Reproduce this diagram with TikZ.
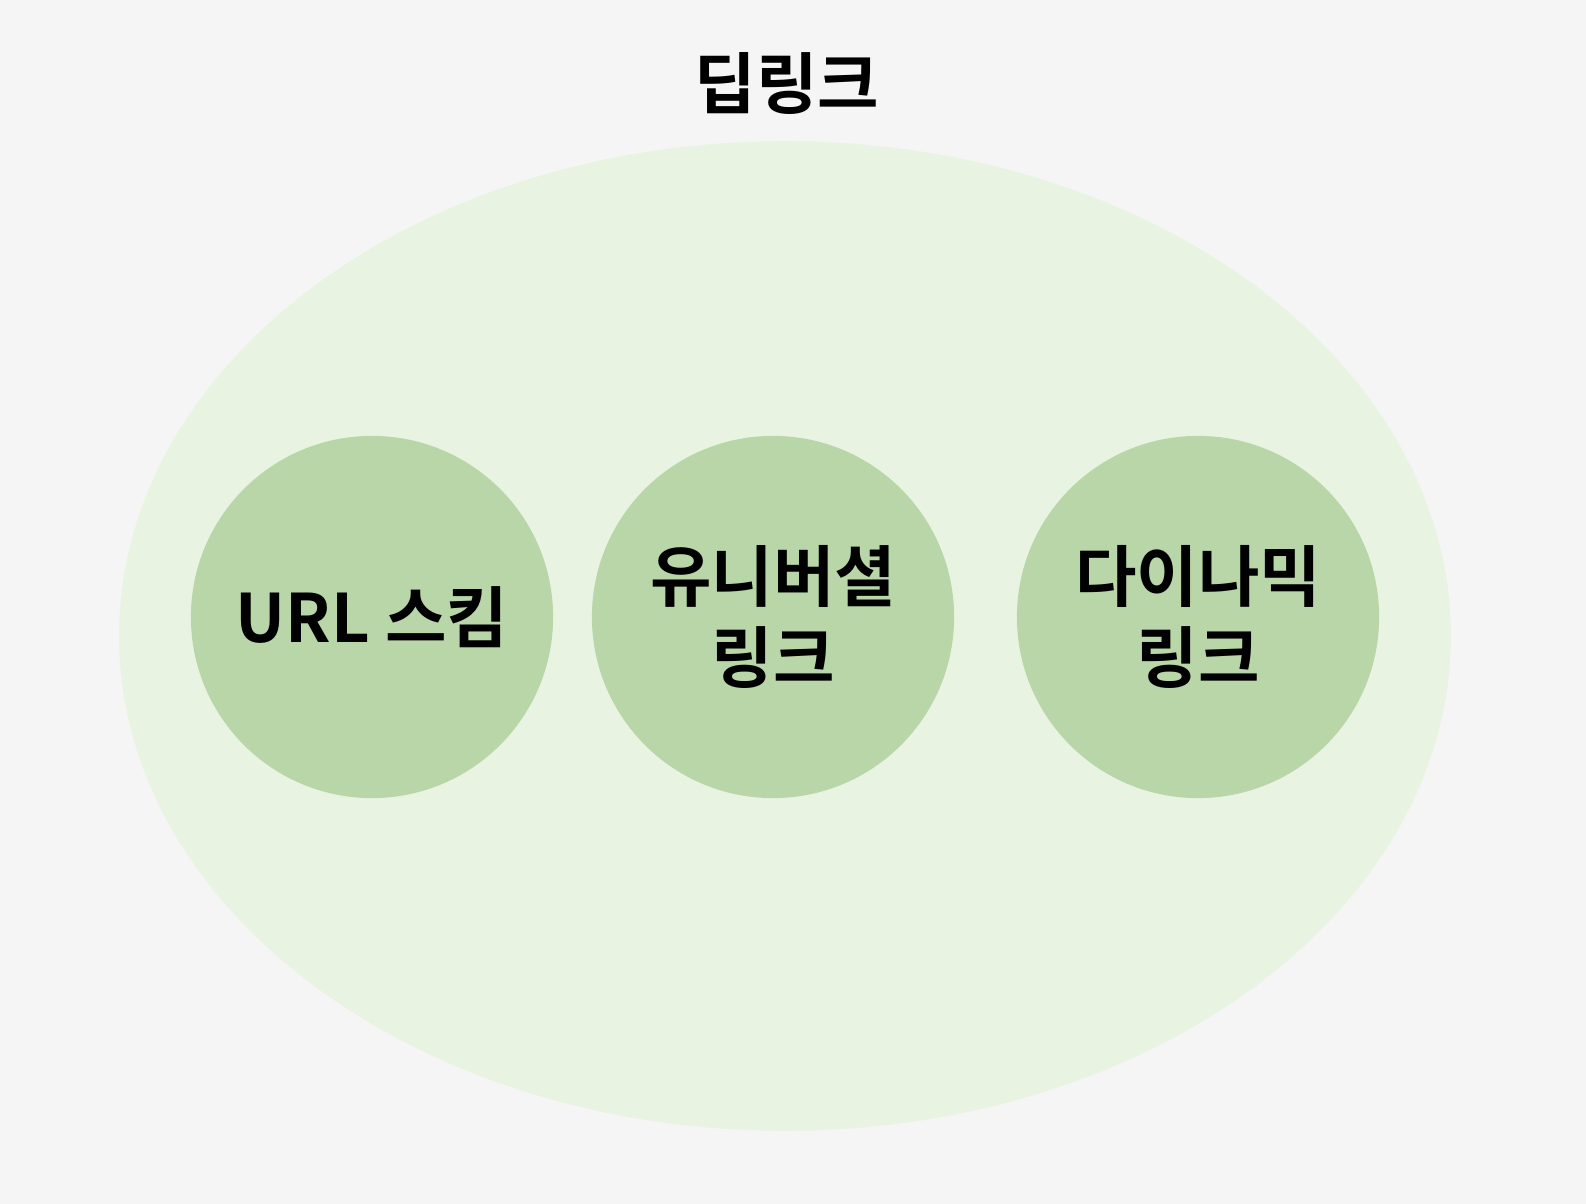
\documentclass[tikz,border=0pt]{standalone}
\usepackage{fontspec}
\setmainfont{Noto Sans CJK KR Bold}
\definecolor{bgcol}{HTML}{F5F5F5}
\definecolor{outercol}{HTML}{E8F4E1}
\definecolor{innercol}{HTML}{B8D6A7}
\begin{document}
\begin{tikzpicture}[x=0.01cm, y=-0.01cm,
  every node/.style={font=\fontsize{19}{22.8}\selectfont, text=black, align=center},
  linkcircle/.style={circle, fill=innercol, minimum size=3.62cm, inner sep=0pt}]
	% 1. 배경과 바깥 타원 (딥링크 전체 영역)
	\fill[bgcol] (0,0) rectangle (1586,1204);
	\useasboundingbox (0,0) rectangle (1586,1204);
	\fill[outercol] (785,636) ellipse [x radius=6.655cm, y radius=4.945cm];
	\node (title) at (787,84) {딥링크};
	
	% 2. 세 가지 방식 (원 안에 이름)
	\node[linkcircle] (scheme) at (372,617) {URL 스킴};
	\node[linkcircle] (universal) at (773,617) {유니버셜\\링크};
	\node[linkcircle] (dynamic) at (1198,617) {다이나믹\\링크};
\end{tikzpicture}
\end{document}
